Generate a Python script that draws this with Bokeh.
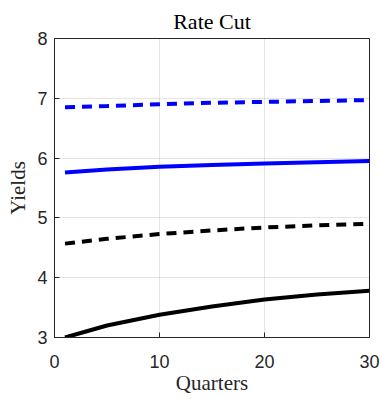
from bokeh.plotting import figure
from bokeh.embed import file_html
from bokeh.resources import INLINE
from bokeh.models import Range1d, FixedTicker

quarters = [1, 5, 10, 15, 20, 25, 30]
blue_dashed = [6.85, 6.87, 6.90, 6.925, 6.94, 6.955, 6.97]
blue_solid = [5.76, 5.81, 5.855, 5.885, 5.91, 5.93, 5.95]
black_dashed = [4.57, 4.65, 4.73, 4.79, 4.84, 4.875, 4.90]
black_solid = [3.00, 3.20, 3.38, 3.52, 3.635, 3.72, 3.78]
x_ticks = [0, 10, 20, 30]
y_ticks = [3, 4, 5, 6, 7, 8]

p = figure(output_backend="svg", toolbar_location=None,
           frame_width=315, frame_height=299,
           min_border_left=54, min_border_right=11,
           min_border_top=38, min_border_bottom=62,
           x_range=Range1d(0, 30), y_range=Range1d(3, 8),
           title="Rate Cut")
p.title.align = "center"
p.title.text_font = "Liberation Serif"
p.title.text_font_size = "22px"
p.title.text_font_style = "normal"
p.title.text_color = "#000000"
p.title.standoff = 10

p.line(quarters, blue_dashed, line_color="#0000ff", line_width=4, line_dash="10 7")
p.line(quarters, blue_solid, line_color="#0000ff", line_width=4)
p.line(quarters, black_dashed, line_color="#000000", line_width=4, line_dash="10 7")
p.line(quarters, black_solid, line_color="#000000", line_width=4)

p.xaxis.ticker = FixedTicker(ticks=x_ticks)
p.yaxis.ticker = FixedTicker(ticks=y_ticks)
for ax in (p.xaxis, p.yaxis):
    ax.major_tick_in = 5
    ax.major_tick_out = 0
    ax.minor_tick_line_color = None
    ax.axis_line_color = "#262626"
    ax.major_tick_line_color = "#262626"
    ax.major_label_text_font = "Liberation Sans"
    ax.major_label_text_font_size = "18px"
    ax.major_label_text_color = "#262626"
    ax.axis_label_text_font = "Liberation Serif"
    ax.axis_label_text_font_size = "21px"
    ax.axis_label_text_font_style = "normal"
    ax.axis_label_text_color = "#262626"
p.xaxis.axis_label = "Quarters"
p.yaxis.axis_label = "Yields"
p.xaxis.major_label_standoff = 17
p.yaxis.major_label_standoff = 7
p.xaxis.axis_label_standoff = 0
p.yaxis.axis_label_standoff = 4

p.grid.grid_line_color = "#000000"
p.grid.grid_line_alpha = 0.1
p.outline_line_color = "#262626"
p.outline_line_alpha = 1.0
p.outline_line_width = 1

open("out.html", "w").write(file_html(p, INLINE))
